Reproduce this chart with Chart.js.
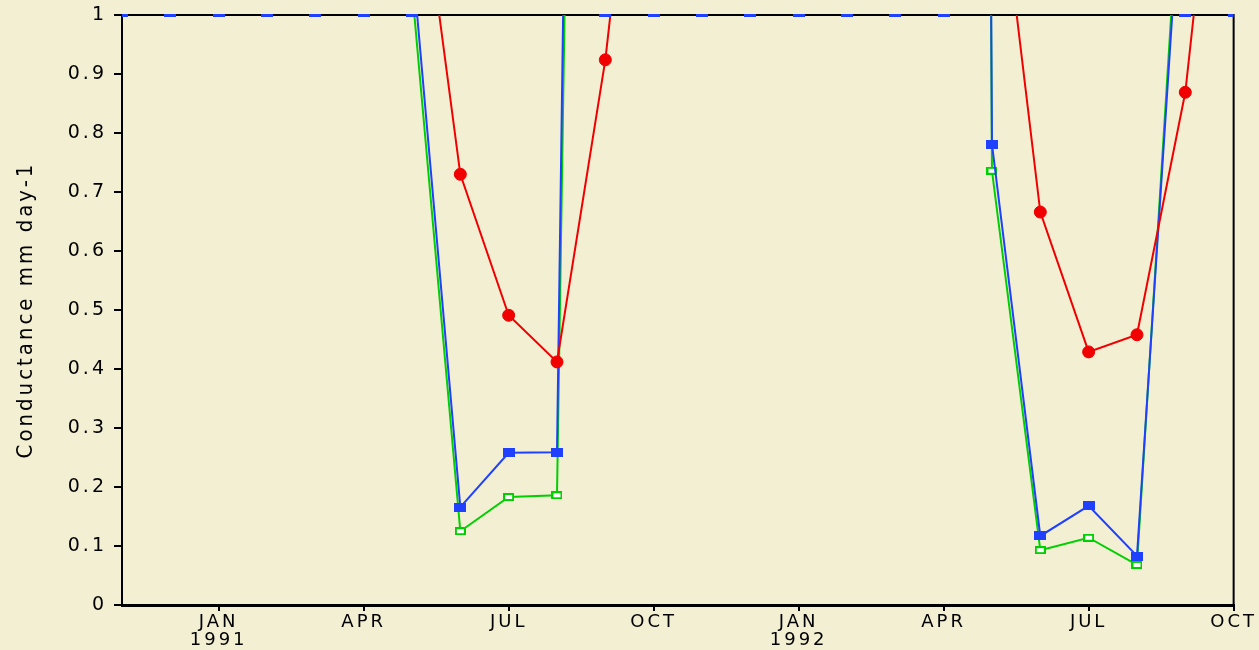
<!DOCTYPE html>
<html>
<head>
<meta charset="utf-8">
<script src="https://cdn.jsdelivr.net/npm/chart.js@4/dist/chart.umd.min.js"></script>
<style>
  html, body { margin: 0; padding: 0; background: #F3EFD3; }
  #wrap { width: 1259px; height: 650px; }
</style>
</head>
<body>
<div id="wrap"><canvas id="c" width="1259" height="650"></canvas></div>
<script>
// Month index: 0 = Nov 1990 ... 23 = Oct 1992 (monthly values)
const monthIndex = [0,1,2,3,4,5,6,7,8,9,10,11,12,13,14,15,16,17,18,19,20,21,22,23];

// Conductance (mm day-1); values above 1 are off the top of the plot
const redSeries   = [2.0,2.0,2.0,2.0,2.0,2.0,1.35,0.730,0.491,0.412,0.924,1.65,2.0,2.0,2.0,2.0,2.0,2.0,1.35,0.666,0.429,0.458,0.869,1.62];
const blueSeries  = [3.0,3.0,3.0,3.0,3.0,3.0,1.10,0.166,0.258,0.259,6.1,3.0,3.0,3.0,3.0,3.0,3.0,15.0,0.781,0.117,0.168,0.083,1.34,3.0];
const greenSeries = [3.0,3.0,3.0,3.0,3.0,3.0,1.045,0.125,0.183,0.186,5.4,3.0,3.0,3.0,3.0,3.0,3.0,15.0,0.736,0.093,0.114,0.068,1.385,3.0];

// Axis ticks
const xTickPositions = [2,5,8,11,14,17,20,23];
const xTickLabels = [['JAN','1991'],'APR','JUL','OCT',['JAN','1992'],'APR','JUL','OCT'];
const yMin = 0, yMax = 1, yStep = 0.1;
const yTitle = 'Conductance mm day-1';

const BG = '#F3EFD3';
const RED = '#F00000';
const BLUE = '#2040FF';
const GREEN = '#00D000';

function rectMarker(w, h, fill, stroke, lw) {
  const c = document.createElement('canvas');
  c.width = w; c.height = h;
  const g = c.getContext('2d');
  if (stroke) {
    g.fillStyle = stroke; g.fillRect(0, 0, w, h);
    g.fillStyle = fill; g.fillRect(lw, lw, w - 2*lw, h - 2*lw);
  } else {
    g.fillStyle = fill; g.fillRect(0, 0, w, h);
  }
  return c;
}
const blueMarker = rectMarker(12, 9, BLUE);
const greenMarker = rectMarker(11, 8, '#FFFFFF', GREEN, 2);
const capMarker = rectMarker(12, 3, BLUE);

const toXY = arr => arr.map((v, i) => ({x: monthIndex[i], y: v}));
const capped = arr => arr.map((v, i) => ({x: monthIndex[i], y: v > yMax ? yMax : null}));

const bgPlugin = {
  id: 'bg',
  beforeLayout(chart) { chart.ctx.letterSpacing = '3px'; },
  beforeDraw(chart) {
    const ctx = chart.ctx;
    ctx.save();
    ctx.fillStyle = BG;
    ctx.fillRect(0, 0, chart.width, chart.height);
    ctx.restore();
    ctx.letterSpacing = '3px';
  },
  beforeDatasetsDraw(chart) {
    const a = chart.chartArea, ctx = chart.ctx;
    ctx.save();
    ctx.strokeStyle = '#000';
    ctx.lineWidth = 2;
    ctx.beginPath();
    ctx.moveTo(a.left, a.top);
    ctx.lineTo(a.right, a.top);
    ctx.lineTo(a.right, a.bottom);
    ctx.stroke();
    ctx.restore();
  }
};

new Chart(document.getElementById('c'), {
  type: 'line',
  data: {
    datasets: [
      {
        data: capped(blueSeries),
        showLine: false,
        pointStyle: capMarker,
        pointRadius: 6,
        clip: {left: 0, right: 0, top: 3, bottom: 0}
      },
      {
        data: toXY(redSeries),
        borderColor: RED,
        borderWidth: 2,
        pointStyle: 'circle',
        pointRadius: 6,
        pointBackgroundColor: RED,
        pointBorderColor: RED,
        pointBorderWidth: 1,
        tension: 0
      },
      {
        data: toXY(blueSeries),
        borderColor: BLUE,
        borderWidth: 2,
        pointStyle: blueMarker,
        tension: 0
      },
      {
        data: toXY(greenSeries),
        borderColor: GREEN,
        borderWidth: 2,
        pointStyle: greenMarker,
        tension: 0
      }
    ]
  },
  options: {
    responsive: false,
    animation: false,
    events: [],
    layout: { padding: { left: 0, top: 15, right: 25, bottom: 0 } },
    plugins: { legend: { display: false }, tooltip: { enabled: false }, title: { display: false } },
    scales: {
      x: {
        type: 'linear',
        min: monthIndex[0],
        max: monthIndex[monthIndex.length - 1],
        afterBuildTicks: (scale) => { scale.ticks = xTickPositions.map(v => ({value: v})); },
        afterFit: (scale) => { scale.height = 45; },
        grid: { display: true, drawOnChartArea: false, drawTicks: true, tickLength: 6, color: '#000', lineWidth: 2 },
        border: { display: true, color: '#000', width: 3 },
        ticks: {
          autoSkip: false, maxRotation: 0, minRotation: 0, padding: 2,
          color: '#000',
          font: { family: 'DejaVu Sans', size: 18, lineHeight: 1.0 },
          callback: (value) => {
            const i = xTickPositions.indexOf(value);
            return i >= 0 ? xTickLabels[i] : '';
          }
        }
      },
      y: {
        type: 'linear',
        min: yMin, max: yMax,
        afterFit: (scale) => { scale.width = 122; },
        grid: { display: true, drawOnChartArea: false, drawTicks: true, tickLength: 8, color: '#000', lineWidth: 2 },
        border: { display: true, color: '#000', width: 2 },
        ticks: {
          stepSize: yStep,
          padding: 7,
          color: '#000',
          font: { family: 'DejaVu Sans', size: 19, lineHeight: 0.8 },
          callback: (v) => {
            if (Math.abs(v) < 1e-9) return '0';
            if (Math.abs(v - 1) < 1e-9) return '1';
            return v.toFixed(1);
          }
        },
        title: {
          display: true,
          text: yTitle,
          color: '#000',
          font: { family: "'DejaVu Sans Condensed', 'Liberation Sans', sans-serif", size: 22 },
          padding: { top: 13, bottom: 0 }
        }
      }
    }
  },
  plugins: [bgPlugin]
});
</script>
</body>
</html>
